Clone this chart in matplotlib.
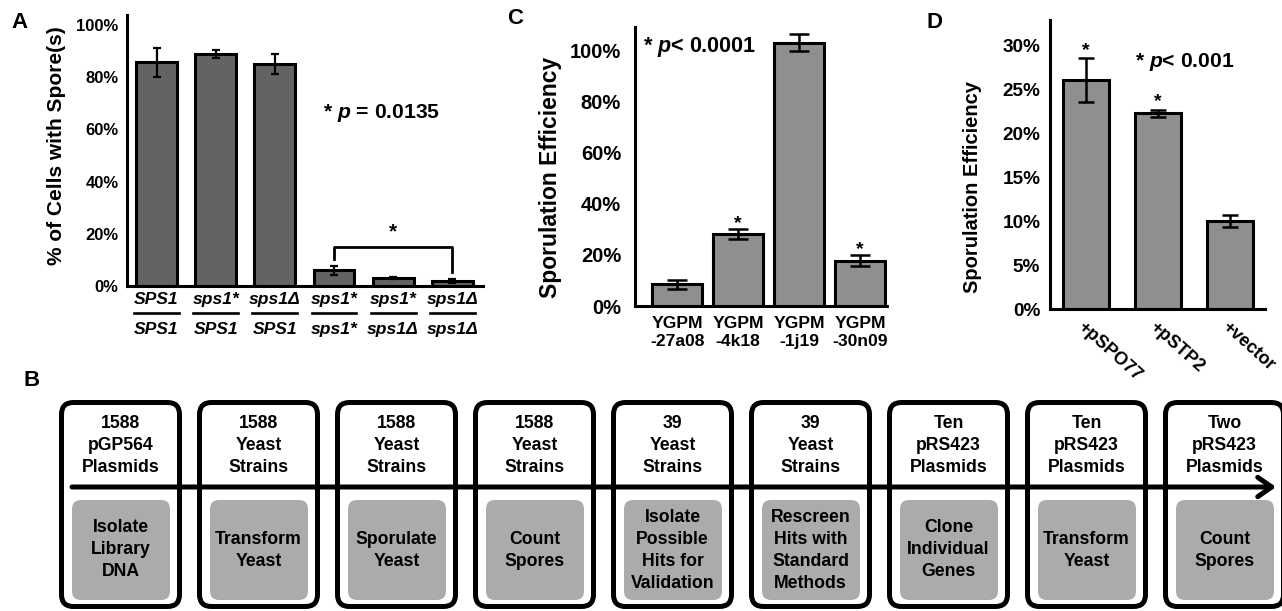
import matplotlib
matplotlib.use('Agg')
import matplotlib.pyplot as plt
from matplotlib import font_manager
from matplotlib.patches import FancyBboxPatch
import numpy as np

W, H = 1282, 611

# panel A: % of cells with spores per genotype
a_top = ['SPS1', 'sps1*', 'sps1Δ', 'sps1*', 'sps1*', 'sps1Δ']
a_bottom = ['SPS1', 'SPS1', 'SPS1', 'sps1*', 'sps1Δ', 'sps1Δ']
a_vals = [85.7, 88.8, 85.0, 6.0, 3.1, 2.0]
a_err = [5.5, 1.6, 3.8, 1.7, 0.4, 0.7]

# panel C: sporulation efficiency of YGPM strains
c_labels = ['YGPM\n-27a08', 'YGPM\n-4k18', 'YGPM\n-1j19', 'YGPM\n-30n09']
c_vals = [8.5, 28.2, 103.0, 17.7]
c_err = [1.7, 1.9, 3.3, 2.2]
c_star = [False, True, False, True]

# panel D: plasmid rescue
d_labels = ['+pSPO77', '+pSTP2', '+vector']
d_vals = [26.1, 22.3, 10.0]
d_err = [2.5, 0.4, 0.7]
d_star = [True, True, False]

# panel B: screen workflow
b_items = ['1588\npGP564\nPlasmids', '1588\nYeast\nStrains', '1588\nYeast\nStrains',
           '1588\nYeast\nStrains', '39\nYeast\nStrains', '39\nYeast\nStrains',
           'Ten\npRS423\nPlasmids', 'Ten\npRS423\nPlasmids', 'Two\npRS423\nPlasmids']
b_steps = ['Isolate\nLibrary\nDNA', 'Transform\nYeast', 'Sporulate\nYeast', 'Count\nSpores',
           'Isolate\nPossible\nHits for\nValidation', 'Rescreen\nHits with\nStandard\nMethods',
           'Clone\nIndividual\nGenes', 'Transform\nYeast', 'Count\nSpores']

names = {f.name for f in font_manager.fontManager.ttflist}
narrow = 'Liberation Sans Narrow' if 'Liberation Sans Narrow' in names else 'Liberation Sans'
fs_b = 15 if narrow == 'Liberation Sans Narrow' else 12.7

plt.rcParams['font.family'] = 'Liberation Sans'
plt.rcParams['font.weight'] = 'bold'
plt.rcParams['mathtext.fontset'] = 'custom'
plt.rcParams['mathtext.it'] = 'Liberation Sans:italic:bold'
plt.rcParams['mathtext.rm'] = 'Liberation Sans:bold'

fig = plt.figure(figsize=(W / 100, H / 100), dpi=100)


def px_axes(l, t, r, b):
    return fig.add_axes([l / W, 1 - b / H, (r - l) / W, (b - t) / H])


def style(ax, size, pad):
    for s in ['top', 'right']:
        ax.spines[s].set_visible(False)
    for s in ['left', 'bottom']:
        ax.spines[s].set_linewidth(2.2)
    ax.tick_params(length=0, labelsize=size, pad=pad)
    for t in ax.get_yticklabels():
        t.set_fontweight('bold')


# ---------------- A ----------------
axA = px_axes(127, 15, 483, 286)
xa = np.arange(len(a_vals))
axA.bar(xa, a_vals, 0.69, color='#636363', edgecolor='black', linewidth=2.2)
axA.errorbar(xa, a_vals, yerr=a_err, fmt='none', ecolor='black', elinewidth=1.6,
             capsize=3, capthick=1.6)
axA.set_xlim(-0.5, 5.52)
axA.set_ylim(0, 103.8)
axA.set_yticks(np.arange(0, 101, 20))
axA.set_yticklabels([f'{v}%' for v in range(0, 101, 20)])
axA.set_xticks([])
style(axA, 12, 6)
for i in xa:
    axA.annotate(a_top[i], xy=(i, 0), xycoords=('data', 'axes fraction'), xytext=(0, -10),
                 textcoords='offset points', ha='center', va='center', fontsize=12.6,
                 style='italic', fontweight='bold')
    axA.annotate(a_bottom[i], xy=(i, 0), xycoords=('data', 'axes fraction'), xytext=(0, -31),
                 textcoords='offset points', ha='center', va='center', fontsize=12.6,
                 style='italic', fontweight='bold')
    axA.plot([i - 0.38, i + 0.38], [-0.098, -0.098], color='black', lw=1.9,
             transform=axA.get_xaxis_transform(), clip_on=False)
# significance bracket between sps1*/sps1* and sps1D/sps1D
y_br = 15
axA.plot([3, 3, 5, 5], [a_vals[3] + a_err[3] + 2.5, y_br, y_br, a_vals[5] + a_err[5] + 2.5],
         color='black', lw=2)
axA.text(4, y_br + 2, '*', ha='center', va='bottom', fontsize=15)
fig.text(323 / W, 1 - 113 / H, '* $p$ = 0.0135', fontsize=15.2, va='center', ha='left')
fig.text(56 / W, 1 - 146 / H, '% of Cells with Spore(s)', rotation=90, fontsize=15,
         ha='center', va='center')
fig.text(19 / W, 1 - 22 / H, 'A', fontsize=16, ha='center', va='center')

# ---------------- C ----------------
axC = px_axes(635, 27, 887, 306)
xc = np.arange(len(c_vals))
axC.bar(xc, c_vals, 0.82, color='#8f8f8f', edgecolor='black', linewidth=2.2)
axC.errorbar(xc, c_vals, yerr=c_err, fmt='none', ecolor='black', elinewidth=1.8,
             capsize=7.5, capthick=1.8)
axC.set_xlim(-0.69, 3.44)
axC.set_ylim(0, 109.2)
axC.set_yticks(np.arange(0, 101, 20))
axC.set_yticklabels([f'{v}%' for v in range(0, 101, 20)])
axC.set_xticks(xc)
axC.set_xticklabels(c_labels, fontsize=12.6, fontweight='bold', linespacing=1.3)
style(axC, 14.5, 10)
axC.tick_params(axis='x', labelsize=12.6, pad=7)
for i in xc:
    if c_star[i]:
        axC.annotate('*', xy=(i, c_vals[i] + c_err[i]), xytext=(0, 0.5),
                     textcoords='offset points', ha='center', va='baseline', fontsize=14)
fig.text(643 / W, 1 - 47 / H, '* $p$< 0.0001', fontsize=15.5, va='center', ha='left')
fig.text(551 / W, 1 - 177 / H, 'Sporulation Efficiency', rotation=90, fontsize=16.5,
         ha='center', va='center')
fig.text(515 / W, 1 - 18 / H, 'C', fontsize=16, ha='center', va='center')

# ---------------- D ----------------
axD = px_axes(1050, 20, 1265, 309)
xd = np.arange(len(d_vals))
axD.bar(xd, d_vals, 0.64, color='#8f8f8f', edgecolor='black', linewidth=2.2)
axD.errorbar(xd, d_vals, yerr=d_err, fmt='none', ecolor='black', elinewidth=1.8,
             capsize=5.5, capthick=1.8)
axD.set_xlim(-0.5, 2.49)
axD.set_ylim(0, 32.95)
axD.set_yticks(np.arange(0, 31, 5))
axD.set_yticklabels([f'{v}%' for v in range(0, 31, 5)])
axD.set_xticks([])
style(axD, 13.7, 7)
for i in xd:
    if d_star[i]:
        axD.annotate('*', xy=(i, d_vals[i] + d_err[i]), xytext=(0, 2.5),
                     textcoords='offset points', ha='center', va='baseline', fontsize=14)
    axD.annotate(d_labels[i], xy=(i, 0), xycoords=('data', 'axes fraction'), xytext=(-4, -11),
                 textcoords='offset points', ha='left', va='center', rotation=-42,
                 rotation_mode='anchor', fontsize=13)
fig.text(1135 / W, 1 - 62 / H, '* $p$< 0.001', fontsize=15.2, va='center', ha='left')
fig.text(972 / W, 1 - 187 / H, 'Sporulation Efficiency', rotation=90, fontsize=14.5,
         ha='center', va='center')
fig.text(935 / W, 1 - 22 / H, 'D', fontsize=16, ha='center', va='center')

# ---------------- B ----------------
axB = fig.add_axes([0, 0, 1, 1], zorder=-1)
axB.set_xlim(0, W)
axB.set_ylim(H, 0)
axB.axis('off')
fig.text(32 / W, 1 - 380 / H, 'B', fontsize=16, ha='center', va='center')


def stacked(x, yc, txt, pitch=22):
    lines = txt.split('\n')
    for k, ln in enumerate(lines):
        axB.text(x, yc + (k - (len(lines) - 1) / 2) * pitch, ln, ha='center', va='center',
                 fontsize=fs_b, family=narrow)


step = 138
for i in range(len(b_items)):
    left = 61.5 + i * step
    axB.add_patch(FancyBboxPatch((left, 402.5), 118, 204, boxstyle='round,pad=0,rounding_size=12',
                                 facecolor='white', edgecolor='black', linewidth=3.6))
    axB.add_patch(FancyBboxPatch((left + 10.5, 500), 98, 100, boxstyle='round,pad=0,rounding_size=9',
                                 facecolor='#ababab', edgecolor='none'))
    stacked(left + 59, 445, b_items[i])
    stacked(left + 59, 550, b_steps[i])
axB.annotate('', xy=(1276, 487), xytext=(72, 487),
             arrowprops=dict(arrowstyle='->,head_length=0.5,head_width=0.35', lw=3.6,
                             color='black', mutation_scale=20, shrinkA=0, shrinkB=0))

fig.savefig('out.png', dpi=100)
